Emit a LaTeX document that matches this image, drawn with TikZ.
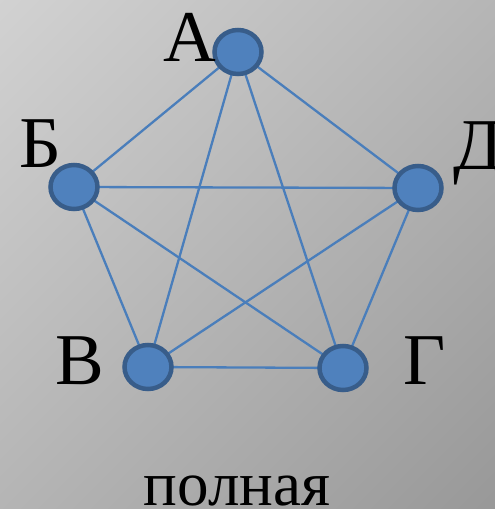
\documentclass[tikz,border=0pt]{standalone}
\usepackage{fontspec}
\setmainfont{Liberation Serif}
\usetikzlibrary{shapes.geometric}
\definecolor{edgeblue}{HTML}{4A7EBB}
\definecolor{nodefill}{HTML}{4F81BD}
\definecolor{nodeborder}{HTML}{385D8A}
\definecolor{bgA}{HTML}{D2D2D2}
\definecolor{bgB}{HTML}{989898}
\begin{document}
\begin{tikzpicture}[x=1pt,y=1pt,
  vtx/.style={ellipse,minimum width=47pt,minimum height=44pt,inner sep=0pt,fill=nodefill,draw=nodeborder,line width=4.5pt},
  edge/.style={draw=edgeblue,line width=2.3pt},
  lbl/.style={anchor=base,inner sep=0pt,font=\fontsize{73}{80}\selectfont,text=black}]
\useasboundingbox (0,0) rectangle (495,509);
\begin{scope}
\clip (0,0) rectangle (495,509);
\shade[shading=axis,left color=bgA,right color=bgB,shading angle=45] (-110,-110) rectangle (605,619);
\end{scope}
\coordinate (cA) at (238,457);
\coordinate (cB) at (74,322);
\coordinate (cD) at (418,321);
\coordinate (cV) at (148,142);
\coordinate (cG) at (343,141);
\draw[edge] (cA) -- (cB);
\draw[edge] (cA) -- (cD);
\draw[edge] (cA) -- (cV);
\draw[edge] (cA) -- (cG);
\draw[edge] (cB) -- (cD);
\draw[edge] (cB) -- (cV);
\draw[edge] (cB) -- (cG);
\draw[edge] (cD) -- (cV);
\draw[edge] (cD) -- (cG);
\draw[edge] (cV) -- (cG);
\node[vtx] (nA) at (cA) {};
\node[vtx] (nB) at (cB) {};
\node[vtx] (nD) at (cD) {};
\node[vtx] (nV) at (cV) {};
\node[vtx] (nG) at (cG) {};
\node[lbl] (tA) at (190,447) {А};
\node[lbl] (tB) at (40,341) {Б};
\node[lbl] (tD) at (478,339) {Д};
\node[lbl] (tV) at (80,124) {В};
\node[lbl] (tG) at (425,124) {Г};
\node[lbl,font=\fontsize{63}{70}\selectfont] (tP) at (237,4) {полная};
\end{tikzpicture}
\end{document}
